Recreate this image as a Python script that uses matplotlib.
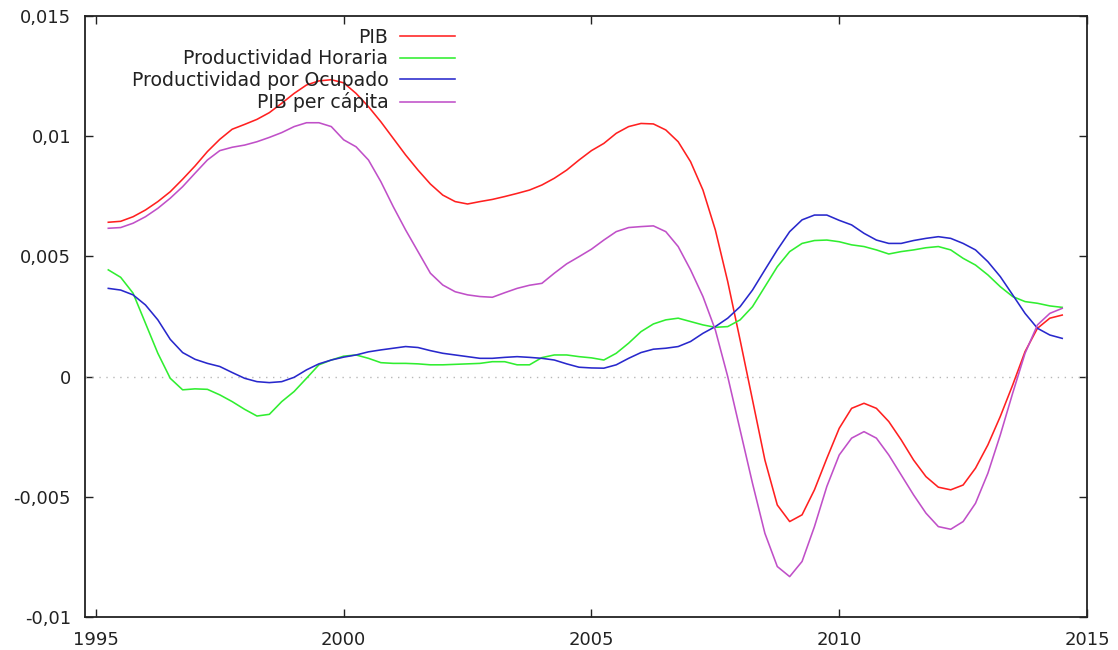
import numpy as np
import matplotlib
matplotlib.use('Agg')
import matplotlib.pyplot as plt

# quarterly points, 1995.25 .. 2014.5
years = np.arange(1995.25, 2014.51, 0.25)

pib = [0.00642, 0.00646, 0.00665,
       0.00693, 0.00728, 0.00769, 0.00821,
       0.00876, 0.00936, 0.00987, 0.01029,
       0.01049, 0.01070, 0.01098, 0.01137,
       0.01178, 0.01213, 0.01230, 0.01235,
       0.01222, 0.01178, 0.01123, 0.01060,
       0.00991, 0.00922, 0.00859, 0.00801,
       0.00755, 0.00728, 0.00718, 0.00728,
       0.00737, 0.00749, 0.00762, 0.00776,
       0.00797, 0.00825, 0.00859, 0.00901,
       0.00940, 0.00970, 0.01012, 0.01040,
       0.01053, 0.01051, 0.01026, 0.00977,
       0.00894, 0.00776, 0.00610, 0.00395,
       0.00152, -0.00097, -0.00347, -0.00534,
       -0.00603, -0.00575, -0.00471, -0.00340,
       -0.00215, -0.00132, -0.00111, -0.00132,
       -0.00187, -0.00263, -0.00347, -0.00416,
       -0.00460, -0.00471, -0.00451, -0.00381,
       -0.00284, -0.00166, -0.00035, 0.00104,
       0.00201, 0.00243, 0.00256]

prod_horaria = [0.00444, 0.00413, 0.00347,
                0.00222, 0.00097, -0.00007, -0.00055,
                -0.00051, -0.00053, -0.00076, -0.00104,
                -0.00136, -0.00164, -0.00157, -0.00104,
                -0.00062, -0.00007, 0.00049, 0.00069,
                0.00085, 0.00090, 0.00076, 0.00058,
                0.00055, 0.00055, 0.00053, 0.00049,
                0.00049, 0.00051, 0.00053, 0.00055,
                0.00062, 0.00062, 0.00049, 0.00049,
                0.00079, 0.00090, 0.00090, 0.00083,
                0.00078, 0.00069, 0.00097, 0.00139,
                0.00187, 0.00219, 0.00236, 0.00243,
                0.00229, 0.00215, 0.00205, 0.00208,
                0.00236, 0.00291, 0.00374, 0.00457,
                0.00520, 0.00554, 0.00566, 0.00568,
                0.00561, 0.00548, 0.00541, 0.00527,
                0.00510, 0.00520, 0.00527, 0.00536,
                0.00541, 0.00527, 0.00492, 0.00464,
                0.00423, 0.00374, 0.00333, 0.00312,
                0.00305, 0.00294, 0.00288]

prod_ocupado = [0.00367, 0.00360, 0.00340,
                0.00298, 0.00236, 0.00155, 0.00100,
                0.00072, 0.00055, 0.00042, 0.00017,
                -0.00007, -0.00021, -0.00025, -0.00021,
                -0.00003, 0.00028, 0.00053, 0.00069,
                0.00081, 0.00090, 0.00103, 0.00111,
                0.00118, 0.00125, 0.00121, 0.00108,
                0.00097, 0.00090, 0.00083, 0.00076,
                0.00076, 0.00080, 0.00083, 0.00080,
                0.00076, 0.00069, 0.00053, 0.00039,
                0.00036, 0.00035, 0.00049, 0.00076,
                0.00100, 0.00114, 0.00118, 0.00125,
                0.00146, 0.00180, 0.00208, 0.00243,
                0.00291, 0.00360, 0.00444, 0.00527,
                0.00603, 0.00652, 0.00672, 0.00672,
                0.00650, 0.00631, 0.00596, 0.00568,
                0.00554, 0.00554, 0.00566, 0.00575,
                0.00582, 0.00575, 0.00554, 0.00527,
                0.00478, 0.00416, 0.00340, 0.00263,
                0.00201, 0.00173, 0.00159]

pib_capita = [0.00617, 0.00620, 0.00638,
              0.00665, 0.00700, 0.00742, 0.00790,
              0.00846, 0.00901, 0.00940, 0.00954,
              0.00963, 0.00977, 0.00995, 0.01015,
              0.01040, 0.01056, 0.01056, 0.01040,
              0.00985, 0.00956, 0.00901, 0.00811,
              0.00707, 0.00610, 0.00520, 0.00430,
              0.00381, 0.00353, 0.00340, 0.00333,
              0.00330, 0.00349, 0.00367, 0.00380,
              0.00388, 0.00430, 0.00469, 0.00499,
              0.00530, 0.00568, 0.00603, 0.00620,
              0.00624, 0.00627, 0.00603, 0.00541,
              0.00444, 0.00333, 0.00194, 0.00000,
              -0.00222, -0.00444, -0.00652, -0.00790,
              -0.00832, -0.00769, -0.00624, -0.00457,
              -0.00326, -0.00256, -0.00229, -0.00256,
              -0.00326, -0.00409, -0.00492, -0.00568,
              -0.00624, -0.00635, -0.00603, -0.00527,
              -0.00402, -0.00243, -0.00069, 0.00097,
              0.00215, 0.00263, 0.00284]

xticks = [1995, 2000, 2005, 2010, 2015]
yticks = [-0.01, -0.005, 0, 0.005, 0.01, 0.015]
ytick_labels = ['-0,01', '-0,005', '0', '0,005', '0,01', '0,015']

plt.rcParams['font.family'] = 'DejaVu Sans'
fig = plt.figure(figsize=(11.18, 6.5), dpi=100)
ax = fig.add_axes([85/1118, 33/650, 1002/1118, 601/650])

ax.axhline(0, color='#b8b8b8', lw=1, ls=(0, (1, 4)))
ax.plot(years, pib, color='#ff2020', lw=1.15, label='PIB')
ax.plot(years, prod_horaria, color='#30ee30', lw=1.15, label='Productividad Horaria')
ax.plot(years, prod_ocupado, color='#2828cc', lw=1.15, label='Productividad por Ocupado')
ax.plot(years, pib_capita, color='#c050c8', lw=1.15, label='PIB per cápita')

ax.set_xlim(1994.78, 2015)
ax.set_ylim(-0.01, 0.015)
ax.set_xticks(xticks)
ax.set_yticks(yticks)
ax.set_yticklabels(ytick_labels)
ax.tick_params(direction='in', length=6, width=1, top=True, right=True,
               labelsize=13, labelcolor='#222222', color='#222222', pad=10)
for s in ax.spines.values():
    s.set_linewidth(1.3)
    s.set_color('#222222')

leg = ax.legend(loc='upper right', bbox_to_anchor=(455/1118, 1 - 28/650),
                bbox_transform=fig.transFigure, frameon=False, markerfirst=False,
                fontsize=13.6, handlelength=2.9, handletextpad=0.63,
                labelspacing=0.13, borderpad=0, borderaxespad=0)
for t in leg.get_texts():
    t.set_color('#222222')

plt.savefig('out.png', dpi=100)
